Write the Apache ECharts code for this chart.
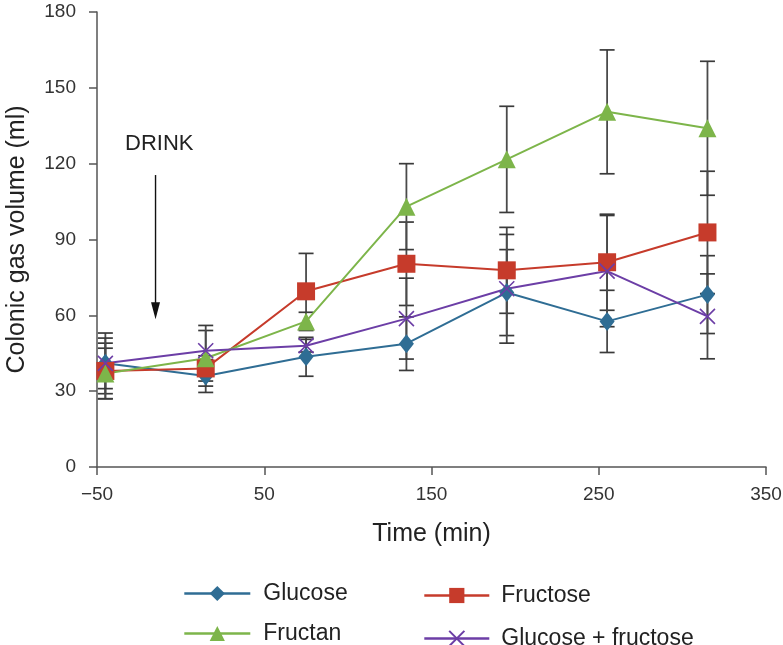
<!DOCTYPE html>
<html>
<head>
<meta charset="utf-8">
<script src="https://cdn.jsdelivr.net/npm/echarts@6/dist/echarts.min.js"></script>
<style>
html,body{margin:0;padding:0;background:#fff;}
#chart{width:783px;height:645px;}
</style>
</head>
<body>
<div id="chart"></div>
<script>
// ---- data ----
const times = [-45, 15, 75, 135, 195, 255, 315];
const glucose     = [41, 36, 43.6, 48.8, 69, 57.6, 68.2];
const glucoseErr  = [12, 6.5, 7.7, 10.6, 17, 12.3, 15.4];
const fructose    = [38, 39, 69.5, 80.4, 77.8, 81, 92.8];
const fructoseErr = [11, 5, 15, 16.5, 17, 19, 24.2];
const fructan     = [37, 43, 57.6, 103, 121.7, 140.5, 134];
const fructanErr  = [10, 11, 3.6, 17, 21, 24.5, 26.5];
const glucFruc    = [41, 46, 48, 58.7, 70.5, 77.5, 59.6];
const glucFrucErr = [10, 10, 2.5, 16, 21.5, 22, 16.8];
const seriesNames = ['Glucose', 'Fructose', 'Fructan', 'Glucose + fructose'];
const xTicks = [-50, 50, 150, 250, 350];
const yTicks = [0, 30, 60, 90, 120, 150, 180];
const drinkArrow = [[-15, 115.5, 58.5]];

const FONT = '"Liberation Sans", Arial, Helvetica, sans-serif';
const colors = ['#2f6d94', '#c63b2b', '#7db54a', '#6c3ea6'];
const crossPath = 'path://M0,0 L10,10 M10,0 L0,10';

function pairs(vals) { return times.map((t, i) => [t, vals[i]]); }
function errData(vals, errs) { return times.map((t, i) => [t, vals[i] - errs[i], vals[i] + errs[i]]); }

function errSeries(vals, errs) {
  return {
    type: 'custom',
    z: 1,
    silent: true,
    encode: {x: 0, y: [1, 2]},
    data: errData(vals, errs),
    renderItem: function (params, api) {
      const x = api.value(0);
      const top = api.coord([x, api.value(2)]);
      const bot = api.coord([x, api.value(1)]);
      const w = 7.5;
      const st = {stroke: '#3a3a3a', lineWidth: 1.7};
      return {type: 'group', children: [
        {type: 'line', shape: {x1: top[0], y1: top[1], x2: bot[0], y2: bot[1]}, style: {stroke: '#4a4a4a', lineWidth: 1.8}},
        {type: 'line', shape: {x1: top[0] - w, y1: top[1], x2: top[0] + w, y2: top[1]}, style: st},
        {type: 'line', shape: {x1: bot[0] - w, y1: bot[1], x2: bot[0] + w, y2: bot[1]}, style: st}
      ]};
    }
  };
}

function lineSeries(name, vals, color, symbol, size, extra) {
  return Object.assign({
    name: name,
    type: 'line',
    z: 3,
    data: pairs(vals),
    symbol: symbol,
    symbolSize: size,
    showAllSymbol: true,
    lineStyle: {color: color, width: 2},
    itemStyle: {color: color},
    emphasis: {disabled: true},
    animation: false
  }, extra || {});
}

function legendItem(name, left, top, width, pad) {
  return {
    data: [name], orient: 'vertical', left: left, top: top, padding: 0,
    itemWidth: width, itemHeight: 19,
    lineStyle: {width: 2.6},
    textStyle: {fontSize: 23, color: '#222', fontFamily: FONT, padding: [0, 0, 0, pad]},
    selectedMode: false
  };
}

const chart = echarts.init(document.getElementById('chart'));
const option = {
  animation: false,
  textStyle: {fontFamily: FONT},
  grid: {left: 97, right: 17, top: 12, bottom: 178, containLabel: false, outerBoundsMode: 'none'},
  xAxis: {
    type: 'value', min: xTicks[0], max: xTicks[xTicks.length - 1], interval: 100,
    name: 'Time (min)', nameLocation: 'middle', nameGap: 55,
    nameTextStyle: {fontSize: 25, color: '#222', fontFamily: FONT},
    splitLine: {show: false},
    axisLine: {onZero: false, lineStyle: {color: '#555', width: 1.5}},
    axisTick: {show: true, length: 8, lineStyle: {color: '#555', width: 1.5}},
    axisLabel: {fontSize: 19, color: '#333', margin: 18, fontFamily: FONT,
      formatter: v => String(v).replace('-', '\u2212')}
  },
  yAxis: {
    type: 'value', min: yTicks[0], max: yTicks[yTicks.length - 1], interval: 30,
    name: 'Colonic gas volume (ml)', nameLocation: 'middle', nameGap: 67, nameRotate: 90,
    nameTextStyle: {fontSize: 25, color: '#222', fontFamily: FONT},
    splitLine: {show: false},
    axisLine: {show: true, onZero: false, lineStyle: {color: '#555', width: 1.5}},
    axisTick: {show: true, length: 8, lineStyle: {color: '#555', width: 1.5}},
    axisLabel: {fontSize: 19, color: '#333', margin: 21, fontFamily: FONT}
  },
  legend: [
    legendItem(seriesNames[0], 183, 582, 66, 8),
    legendItem(seriesNames[2], 183, 622, 66, 8),
    legendItem(seriesNames[1], 423, 584, 65, 7),
    legendItem(seriesNames[3], 423, 627, 65, 7)
  ],
  graphic: [
    {type: 'text', left: 125, top: 133, style: {text: 'DRINK', fontSize: 22, fill: '#222', fontFamily: FONT}}
  ],
  series: [
    {
      type: 'custom', z: 2, silent: true,
      encode: {x: 0, y: [1, 2]},
      data: drinkArrow,
      renderItem: function (params, api) {
        const x = api.value(0);
        const a = api.coord([x, api.value(1)]);
        const b = api.coord([x, api.value(2)]);
        const hh = 17, hw = 4.5;
        return {type: 'group', children: [
          {type: 'line', shape: {x1: a[0], y1: a[1], x2: b[0], y2: b[1] - hh + 2}, style: {stroke: '#111', lineWidth: 1.4}},
          {type: 'polygon', shape: {points: [[b[0] - hw, b[1] - hh], [b[0] + hw, b[1] - hh], [b[0], b[1]]]}, style: {fill: '#111'}}
        ]};
      }
    },
    errSeries(glucose, glucoseErr),
    errSeries(fructose, fructoseErr),
    errSeries(fructan, fructanErr),
    errSeries(glucFruc, glucFrucErr),
    lineSeries(seriesNames[0], glucose, colors[0], 'diamond', [15, 19]),
    lineSeries(seriesNames[1], fructose, colors[1], 'rect', 18),
    lineSeries(seriesNames[2], fructan, colors[2], 'triangle', 18),
    lineSeries(seriesNames[3], glucFruc, colors[3], crossPath, 15, {
      itemStyle: {color: colors[3], borderColor: colors[3], borderWidth: 1.6}
    })
  ]
};
chart.setOption(option);
</script>
</body>
</html>
